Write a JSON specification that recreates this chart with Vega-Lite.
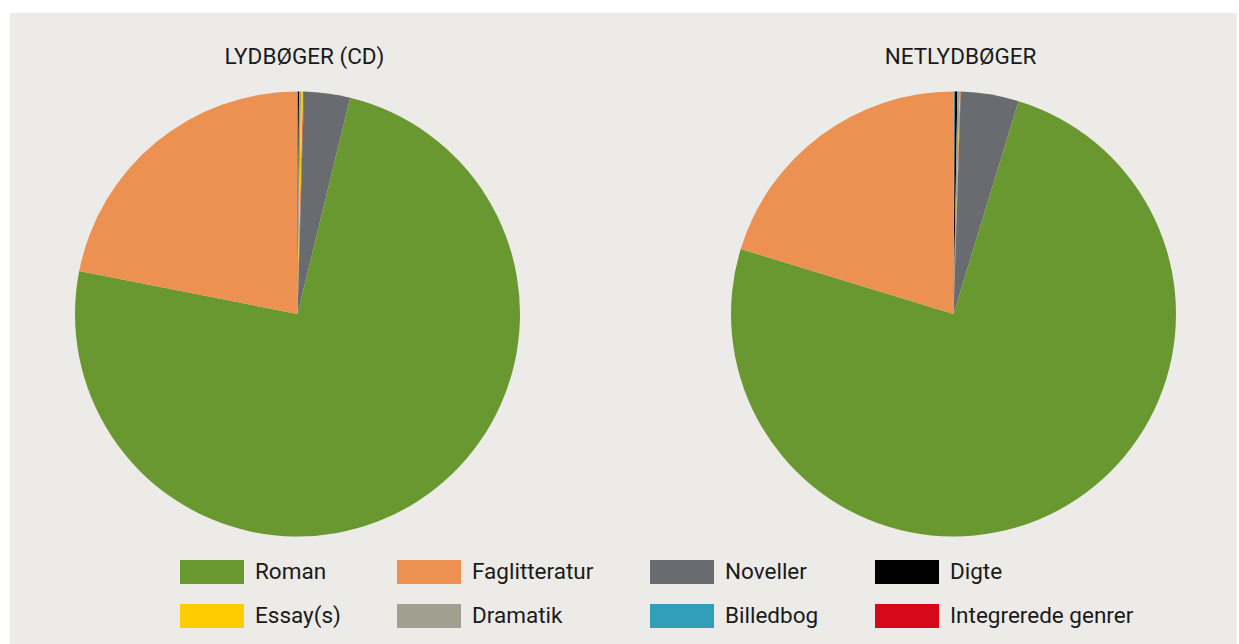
{
  "$schema": "https://vega.github.io/schema/vega-lite/v6.json",
  "width": 1227,
  "height": 631,
  "autosize": {"type": "none"},
  "padding": {"left": 10, "top": 13, "right": 2, "bottom": 0},
  "background": "#FFFFFF",
  "config": {
    "view": {"fill": "#ECEBE7", "stroke": null},
    "font": "Roboto"
  },
  "datasets": {
    "slices": [
      {"chart": "LYDBØGER (CD)", "genre": "Billedbog", "order": 1, "pct": 0.0},
      {"chart": "LYDBØGER (CD)", "genre": "Digte", "order": 2, "pct": 0.11},
      {"chart": "LYDBØGER (CD)", "genre": "Dramatik", "order": 3, "pct": 0.15},
      {"chart": "LYDBØGER (CD)", "genre": "Essay(s)", "order": 4, "pct": 0.16},
      {"chart": "LYDBØGER (CD)", "genre": "Integrerede genrer", "order": 5, "pct": 0.05},
      {"chart": "LYDBØGER (CD)", "genre": "Noveller", "order": 6, "pct": 3.33},
      {"chart": "LYDBØGER (CD)", "genre": "Roman", "order": 7, "pct": 74.3},
      {"chart": "LYDBØGER (CD)", "genre": "Faglitteratur", "order": 8, "pct": 21.9},
      {"chart": "NETLYDBØGER", "genre": "Billedbog", "order": 1, "pct": 0.1},
      {"chart": "NETLYDBØGER", "genre": "Digte", "order": 2, "pct": 0.18},
      {"chart": "NETLYDBØGER", "genre": "Dramatik", "order": 3, "pct": 0.18},
      {"chart": "NETLYDBØGER", "genre": "Essay(s)", "order": 4, "pct": 0.04},
      {"chart": "NETLYDBØGER", "genre": "Integrerede genrer", "order": 5, "pct": 0.02},
      {"chart": "NETLYDBØGER", "genre": "Noveller", "order": 6, "pct": 4.2},
      {"chart": "NETLYDBØGER", "genre": "Roman", "order": 7, "pct": 75.0},
      {"chart": "NETLYDBØGER", "genre": "Faglitteratur", "order": 8, "pct": 20.28}
    ],
    "titles": [
      {"chart": "LYDBØGER (CD)", "part": "title"},
      {"chart": "NETLYDBØGER", "part": "title"}
    ]
  },
  "layer": [
    {
      "data": {"name": "slices"},
      "transform": [
        {"calculate": "'pie'", "as": "part"},
        {"stack": "pct", "groupby": ["chart"], "offset": "normalize", "sort": [{"field": "order", "order": "ascending"}], "as": ["v0", "v1"]}
      ],
      "mark": {"type": "arc", "outerRadius": 222.5},
      "encoding": {
        "x": {"field": "chart", "type": "nominal", "axis": null,
              "scale": {"type": "point", "domain": ["LYDBØGER (CD)", "NETLYDBØGER"], "range": [287.5, 943.5], "padding": 0}},
        "y": {"field": "part", "type": "nominal", "axis": null,
              "scale": {"type": "point", "domain": ["title", "pie"], "range": [44, 301], "padding": 0}},
        "theta": {"field": "v0", "type": "quantitative", "scale": {"domain": [0, 1]}},
        "theta2": {"field": "v1"},
        "color": {
          "field": "genre", "type": "nominal",
          "scale": {
            "domain": ["Roman", "Faglitteratur", "Noveller", "Digte", "Essay(s)", "Dramatik", "Billedbog", "Integrerede genrer"],
            "range": ["#6A9830", "#EC9152", "#686B70", "#000000", "#FFCC00", "#A19F90", "#319FB7", "#D7081A"]
          },
          "legend": {
            "title": null,
            "orient": "none",
            "legendX": 170,
            "legendY": 527,
            "direction": "horizontal",
            "columns": 4,
            "columnPadding": 56,
            "rowPadding": -25,
            "symbolType": "M-1,-0.375H1V0.375H-1Z",
            "symbolSize": 4096,
            "symbolStrokeWidth": 0,
            "symbolOpacity": 1,
            "labelOffset": 11,
            "labelFontSize": 22.5,
            "labelFont": "Roboto",
            "labelColor": "#1A1A1A",
            "labelLimit": 400
          }
        }
      }
    },
    {
      "data": {"name": "titles"},
      "mark": {"type": "text", "fontSize": 22.5, "font": "Roboto", "color": "#1A1A1A", "baseline": "middle", "align": "center", "dx": 7},
      "encoding": {
        "x": {"field": "chart", "type": "nominal"},
        "y": {"field": "part", "type": "nominal"},
        "text": {"field": "chart"}
      }
    }
  ]
}
